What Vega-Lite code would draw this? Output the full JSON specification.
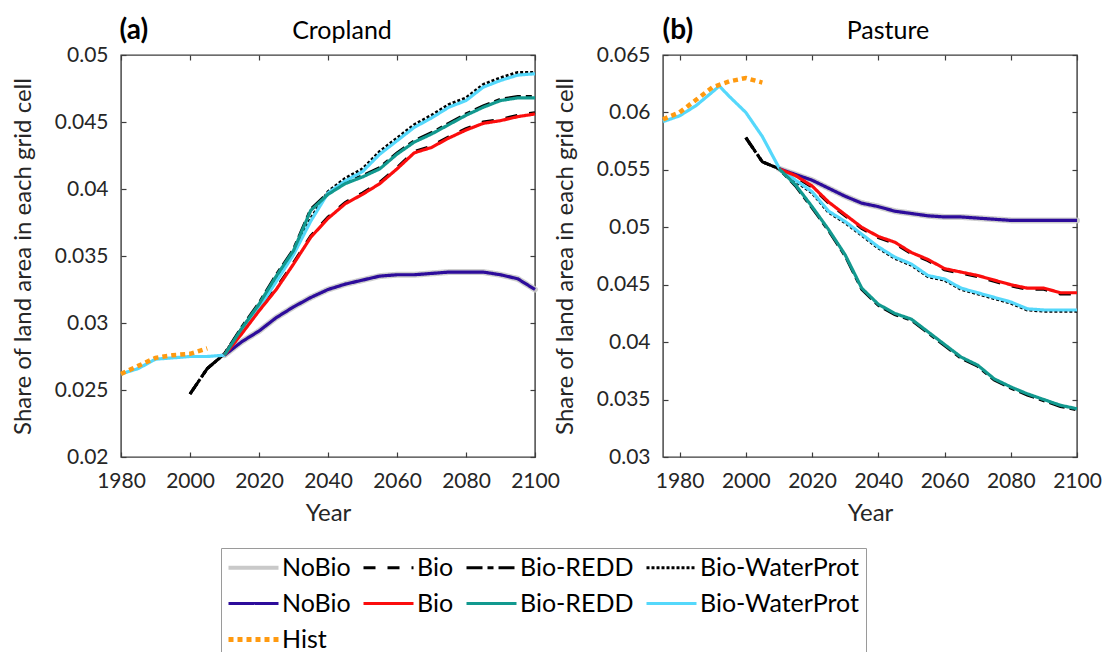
{
  "$schema": "https://vega.github.io/schema/vega-lite/v6.json",
  "background": "white",
  "padding": {"left": 10, "top": 17, "right": 10, "bottom": 0},
  "config": {
    "font": "Lato",
    "view": {"stroke": "#3c3c3c", "strokeWidth": 1.4},
    "axis": {
      "grid": false, "domain": false,
      "tickColor": "#3c3c3c", "tickSize": 5, "tickWidth": 1.2, "offset": -5,
      "labelFont": "Lato", "labelFontSize": 21, "labelColor": "#262626",
      "labelFlush": false, "labelOverlap": false, "labelBound": false,
      "titleFont": "Lato", "titleFontSize": 24, "titleFontWeight": "normal", "titleColor": "#262626"
    },
    "axisX": {"labelPadding": 13, "titlePadding": 10},
    "axisY": {"labelPadding": 13, "titlePadding": 19},
    "title": {"font": "Lato", "fontSize": 25, "fontWeight": "normal", "color": "#000000"},
    "legend": {
      "orient": "none", "legendX": 100, "legendY": 493,
      "direction": "horizontal", "columns": 4, "title": null,
      "labelFont": "Lato", "labelFontSize": 25, "labelColor": "#000000", "labelOffset": 16, "labelLimit": 300,
      "symbolType": "stroke", "symbolSize": 2500, "symbolStrokeWidth": 3, "symbolOffset": 13,
      "strokeColor": "#9a9a9a", "padding": 7, "rowPadding": 10, "columnPadding": 6
    }
  },
  "datasets": {
    "land": [
      {"p":"a","s":"Hist","t":1980,"v":0.0262},{"p":"a","s":"Hist","t":1985,"v":0.0268},{"p":"a","s":"Hist","t":1990,"v":0.0274},{"p":"a","s":"Hist","t":1995,"v":0.0276},{"p":"a","s":"Hist","t":2000,"v":0.0277},{"p":"a","s":"Hist","t":2005,"v":0.0281},

      {"p":"a","s":"c_Bio-WaterProt","t":1980,"v":0.0262},{"p":"a","s":"c_Bio-WaterProt","t":1985,"v":0.0266},{"p":"a","s":"c_Bio-WaterProt","t":1990,"v":0.0273},{"p":"a","s":"c_Bio-WaterProt","t":1995,"v":0.0274},{"p":"a","s":"c_Bio-WaterProt","t":2000,"v":0.0275},{"p":"a","s":"c_Bio-WaterProt","t":2005,"v":0.0275},
      {"p":"a","s":"c_Bio-WaterProt","t":2010,"v":0.0276},{"p":"a","s":"c_Bio-WaterProt","t":2015,"v":0.0294},{"p":"a","s":"c_Bio-WaterProt","t":2020,"v":0.0311},{"p":"a","s":"c_Bio-WaterProt","t":2025,"v":0.0331},{"p":"a","s":"c_Bio-WaterProt","t":2030,"v":0.0351},{"p":"a","s":"c_Bio-WaterProt","t":2035,"v":0.0376},{"p":"a","s":"c_Bio-WaterProt","t":2040,"v":0.0397},{"p":"a","s":"c_Bio-WaterProt","t":2045,"v":0.0406},{"p":"a","s":"c_Bio-WaterProt","t":2050,"v":0.0413},{"p":"a","s":"c_Bio-WaterProt","t":2055,"v":0.0426},{"p":"a","s":"c_Bio-WaterProt","t":2060,"v":0.0436},{"p":"a","s":"c_Bio-WaterProt","t":2065,"v":0.0446},{"p":"a","s":"c_Bio-WaterProt","t":2070,"v":0.0453},{"p":"a","s":"c_Bio-WaterProt","t":2075,"v":0.0461},{"p":"a","s":"c_Bio-WaterProt","t":2080,"v":0.0466},{"p":"a","s":"c_Bio-WaterProt","t":2085,"v":0.0476},{"p":"a","s":"c_Bio-WaterProt","t":2090,"v":0.0481},{"p":"a","s":"c_Bio-WaterProt","t":2095,"v":0.0485},{"p":"a","s":"c_Bio-WaterProt","t":2100,"v":0.0486},

      {"p":"a","s":"c_NoBio","t":2010,"v":0.0276},{"p":"a","s":"c_NoBio","t":2015,"v":0.0286},{"p":"a","s":"c_NoBio","t":2020,"v":0.0294},{"p":"a","s":"c_NoBio","t":2025,"v":0.0304},{"p":"a","s":"c_NoBio","t":2030,"v":0.0312},{"p":"a","s":"c_NoBio","t":2035,"v":0.0319},{"p":"a","s":"c_NoBio","t":2040,"v":0.0325},{"p":"a","s":"c_NoBio","t":2045,"v":0.0329},{"p":"a","s":"c_NoBio","t":2050,"v":0.0332},{"p":"a","s":"c_NoBio","t":2055,"v":0.0335},{"p":"a","s":"c_NoBio","t":2060,"v":0.0336},{"p":"a","s":"c_NoBio","t":2065,"v":0.0336},{"p":"a","s":"c_NoBio","t":2070,"v":0.0337},{"p":"a","s":"c_NoBio","t":2075,"v":0.0338},{"p":"a","s":"c_NoBio","t":2080,"v":0.0338},{"p":"a","s":"c_NoBio","t":2085,"v":0.0338},{"p":"a","s":"c_NoBio","t":2090,"v":0.0336},{"p":"a","s":"c_NoBio","t":2095,"v":0.0333},{"p":"a","s":"c_NoBio","t":2100,"v":0.0325},

      {"p":"a","s":"c_Bio","t":2010,"v":0.0276},{"p":"a","s":"c_Bio","t":2015,"v":0.0292},{"p":"a","s":"c_Bio","t":2020,"v":0.0309},{"p":"a","s":"c_Bio","t":2025,"v":0.0325},{"p":"a","s":"c_Bio","t":2030,"v":0.0344},{"p":"a","s":"c_Bio","t":2035,"v":0.0364},{"p":"a","s":"c_Bio","t":2040,"v":0.0378},{"p":"a","s":"c_Bio","t":2045,"v":0.0389},{"p":"a","s":"c_Bio","t":2050,"v":0.0396},{"p":"a","s":"c_Bio","t":2055,"v":0.0404},{"p":"a","s":"c_Bio","t":2060,"v":0.0415},{"p":"a","s":"c_Bio","t":2065,"v":0.0427},{"p":"a","s":"c_Bio","t":2070,"v":0.0431},{"p":"a","s":"c_Bio","t":2075,"v":0.0438},{"p":"a","s":"c_Bio","t":2080,"v":0.0444},{"p":"a","s":"c_Bio","t":2085,"v":0.0449},{"p":"a","s":"c_Bio","t":2090,"v":0.0451},{"p":"a","s":"c_Bio","t":2095,"v":0.0454},{"p":"a","s":"c_Bio","t":2100,"v":0.0456},

      {"p":"a","s":"c_Bio-REDD","t":2010,"v":0.0276},{"p":"a","s":"c_Bio-REDD","t":2015,"v":0.0296},{"p":"a","s":"c_Bio-REDD","t":2020,"v":0.0314},{"p":"a","s":"c_Bio-REDD","t":2025,"v":0.0335},{"p":"a","s":"c_Bio-REDD","t":2030,"v":0.0354},{"p":"a","s":"c_Bio-REDD","t":2035,"v":0.0384},{"p":"a","s":"c_Bio-REDD","t":2040,"v":0.0396},{"p":"a","s":"c_Bio-REDD","t":2045,"v":0.0404},{"p":"a","s":"c_Bio-REDD","t":2050,"v":0.0409},{"p":"a","s":"c_Bio-REDD","t":2055,"v":0.0415},{"p":"a","s":"c_Bio-REDD","t":2060,"v":0.0426},{"p":"a","s":"c_Bio-REDD","t":2065,"v":0.0435},{"p":"a","s":"c_Bio-REDD","t":2070,"v":0.0441},{"p":"a","s":"c_Bio-REDD","t":2075,"v":0.0448},{"p":"a","s":"c_Bio-REDD","t":2080,"v":0.0455},{"p":"a","s":"c_Bio-REDD","t":2085,"v":0.0461},{"p":"a","s":"c_Bio-REDD","t":2090,"v":0.0466},{"p":"a","s":"c_Bio-REDD","t":2095,"v":0.0468},{"p":"a","s":"c_Bio-REDD","t":2100,"v":0.0468},

      {"p":"a","s":"k_NoBio","t":2010,"v":0.0276},{"p":"a","s":"k_NoBio","t":2015,"v":0.0286},{"p":"a","s":"k_NoBio","t":2020,"v":0.0294},{"p":"a","s":"k_NoBio","t":2025,"v":0.0304},{"p":"a","s":"k_NoBio","t":2030,"v":0.0312},{"p":"a","s":"k_NoBio","t":2035,"v":0.0319},{"p":"a","s":"k_NoBio","t":2040,"v":0.0325},{"p":"a","s":"k_NoBio","t":2045,"v":0.0329},{"p":"a","s":"k_NoBio","t":2050,"v":0.0332},{"p":"a","s":"k_NoBio","t":2055,"v":0.0335},{"p":"a","s":"k_NoBio","t":2060,"v":0.0336},{"p":"a","s":"k_NoBio","t":2065,"v":0.0336},{"p":"a","s":"k_NoBio","t":2070,"v":0.0337},{"p":"a","s":"k_NoBio","t":2075,"v":0.0338},{"p":"a","s":"k_NoBio","t":2080,"v":0.0338},{"p":"a","s":"k_NoBio","t":2085,"v":0.0338},{"p":"a","s":"k_NoBio","t":2090,"v":0.0336},{"p":"a","s":"k_NoBio","t":2095,"v":0.0333},{"p":"a","s":"k_NoBio","t":2100,"v":0.0325},

      {"p":"a","s":"k_Bio","t":2000,"v":0.0247},{"p":"a","s":"k_Bio","t":2005,"v":0.0266},{"p":"a","s":"k_Bio","t":2010,"v":0.0277},{"p":"a","s":"k_Bio","t":2015,"v":0.0293},{"p":"a","s":"k_Bio","t":2020,"v":0.0310},{"p":"a","s":"k_Bio","t":2025,"v":0.0326},{"p":"a","s":"k_Bio","t":2030,"v":0.0345},{"p":"a","s":"k_Bio","t":2035,"v":0.0365},{"p":"a","s":"k_Bio","t":2040,"v":0.0379},{"p":"a","s":"k_Bio","t":2045,"v":0.0390},{"p":"a","s":"k_Bio","t":2050,"v":0.0397},{"p":"a","s":"k_Bio","t":2055,"v":0.0405},{"p":"a","s":"k_Bio","t":2060,"v":0.0416},{"p":"a","s":"k_Bio","t":2065,"v":0.0428},{"p":"a","s":"k_Bio","t":2070,"v":0.0432},{"p":"a","s":"k_Bio","t":2075,"v":0.0439},{"p":"a","s":"k_Bio","t":2080,"v":0.0445},{"p":"a","s":"k_Bio","t":2085,"v":0.0450},{"p":"a","s":"k_Bio","t":2090,"v":0.0452},{"p":"a","s":"k_Bio","t":2095,"v":0.0455},{"p":"a","s":"k_Bio","t":2100,"v":0.0457},

      {"p":"a","s":"k_Bio-REDD","t":2000,"v":0.0247},{"p":"a","s":"k_Bio-REDD","t":2005,"v":0.0266},{"p":"a","s":"k_Bio-REDD","t":2010,"v":0.0277},{"p":"a","s":"k_Bio-REDD","t":2015,"v":0.0297},{"p":"a","s":"k_Bio-REDD","t":2020,"v":0.0315},{"p":"a","s":"k_Bio-REDD","t":2025,"v":0.0336},{"p":"a","s":"k_Bio-REDD","t":2030,"v":0.0355},{"p":"a","s":"k_Bio-REDD","t":2035,"v":0.0385},{"p":"a","s":"k_Bio-REDD","t":2040,"v":0.0397},{"p":"a","s":"k_Bio-REDD","t":2045,"v":0.0405},{"p":"a","s":"k_Bio-REDD","t":2050,"v":0.0410},{"p":"a","s":"k_Bio-REDD","t":2055,"v":0.0416},{"p":"a","s":"k_Bio-REDD","t":2060,"v":0.0427},{"p":"a","s":"k_Bio-REDD","t":2065,"v":0.0436},{"p":"a","s":"k_Bio-REDD","t":2070,"v":0.0442},{"p":"a","s":"k_Bio-REDD","t":2075,"v":0.0449},{"p":"a","s":"k_Bio-REDD","t":2080,"v":0.0456},{"p":"a","s":"k_Bio-REDD","t":2085,"v":0.0462},{"p":"a","s":"k_Bio-REDD","t":2090,"v":0.0467},{"p":"a","s":"k_Bio-REDD","t":2095,"v":0.0469},{"p":"a","s":"k_Bio-REDD","t":2100,"v":0.0469},

      {"p":"a","s":"k_Bio-WaterProt","t":2000,"v":0.0247},{"p":"a","s":"k_Bio-WaterProt","t":2005,"v":0.0266},{"p":"a","s":"k_Bio-WaterProt","t":2010,"v":0.0277},{"p":"a","s":"k_Bio-WaterProt","t":2015,"v":0.0296},{"p":"a","s":"k_Bio-WaterProt","t":2020,"v":0.0313},{"p":"a","s":"k_Bio-WaterProt","t":2025,"v":0.0333},{"p":"a","s":"k_Bio-WaterProt","t":2030,"v":0.0353},{"p":"a","s":"k_Bio-WaterProt","t":2035,"v":0.0378},{"p":"a","s":"k_Bio-WaterProt","t":2040,"v":0.0398},{"p":"a","s":"k_Bio-WaterProt","t":2045,"v":0.0408},{"p":"a","s":"k_Bio-WaterProt","t":2050,"v":0.0415},{"p":"a","s":"k_Bio-WaterProt","t":2055,"v":0.0428},{"p":"a","s":"k_Bio-WaterProt","t":2060,"v":0.0438},{"p":"a","s":"k_Bio-WaterProt","t":2065,"v":0.0448},{"p":"a","s":"k_Bio-WaterProt","t":2070,"v":0.0455},{"p":"a","s":"k_Bio-WaterProt","t":2075,"v":0.0463},{"p":"a","s":"k_Bio-WaterProt","t":2080,"v":0.0468},{"p":"a","s":"k_Bio-WaterProt","t":2085,"v":0.0478},{"p":"a","s":"k_Bio-WaterProt","t":2090,"v":0.0483},{"p":"a","s":"k_Bio-WaterProt","t":2095,"v":0.0487},{"p":"a","s":"k_Bio-WaterProt","t":2100,"v":0.0487},

      {"p":"b","s":"Hist","t":1975,"v":0.0594},{"p":"b","s":"Hist","t":1980,"v":0.0600},{"p":"b","s":"Hist","t":1985,"v":0.0611},{"p":"b","s":"Hist","t":1990,"v":0.0622},{"p":"b","s":"Hist","t":1995,"v":0.0627},{"p":"b","s":"Hist","t":2000,"v":0.0630},{"p":"b","s":"Hist","t":2005,"v":0.0626},

      {"p":"b","s":"c_Bio-WaterProt","t":1975,"v":0.0592},{"p":"b","s":"c_Bio-WaterProt","t":1980,"v":0.0597},{"p":"b","s":"c_Bio-WaterProt","t":1985,"v":0.0606},{"p":"b","s":"c_Bio-WaterProt","t":1990,"v":0.0618},{"p":"b","s":"c_Bio-WaterProt","t":1992,"v":0.0623},{"p":"b","s":"c_Bio-WaterProt","t":1995,"v":0.0614},{"p":"b","s":"c_Bio-WaterProt","t":2000,"v":0.0600},{"p":"b","s":"c_Bio-WaterProt","t":2005,"v":0.0579},
      {"p":"b","s":"c_Bio-WaterProt","t":2010,"v":0.0552},{"p":"b","s":"c_Bio-WaterProt","t":2015,"v":0.0541},{"p":"b","s":"c_Bio-WaterProt","t":2020,"v":0.0531},{"p":"b","s":"c_Bio-WaterProt","t":2025,"v":0.0514},{"p":"b","s":"c_Bio-WaterProt","t":2030,"v":0.0505},{"p":"b","s":"c_Bio-WaterProt","t":2035,"v":0.0494},{"p":"b","s":"c_Bio-WaterProt","t":2040,"v":0.0483},{"p":"b","s":"c_Bio-WaterProt","t":2045,"v":0.0474},{"p":"b","s":"c_Bio-WaterProt","t":2050,"v":0.0468},{"p":"b","s":"c_Bio-WaterProt","t":2055,"v":0.0458},{"p":"b","s":"c_Bio-WaterProt","t":2060,"v":0.0455},{"p":"b","s":"c_Bio-WaterProt","t":2065,"v":0.0447},{"p":"b","s":"c_Bio-WaterProt","t":2070,"v":0.0443},{"p":"b","s":"c_Bio-WaterProt","t":2075,"v":0.0439},{"p":"b","s":"c_Bio-WaterProt","t":2080,"v":0.0435},{"p":"b","s":"c_Bio-WaterProt","t":2085,"v":0.0429},{"p":"b","s":"c_Bio-WaterProt","t":2090,"v":0.0428},{"p":"b","s":"c_Bio-WaterProt","t":2095,"v":0.0428},{"p":"b","s":"c_Bio-WaterProt","t":2100,"v":0.0428},

      {"p":"b","s":"c_NoBio","t":2010,"v":0.0551},{"p":"b","s":"c_NoBio","t":2015,"v":0.0546},{"p":"b","s":"c_NoBio","t":2020,"v":0.0541},{"p":"b","s":"c_NoBio","t":2025,"v":0.0534},{"p":"b","s":"c_NoBio","t":2030,"v":0.0527},{"p":"b","s":"c_NoBio","t":2035,"v":0.0521},{"p":"b","s":"c_NoBio","t":2040,"v":0.0518},{"p":"b","s":"c_NoBio","t":2045,"v":0.0514},{"p":"b","s":"c_NoBio","t":2050,"v":0.0512},{"p":"b","s":"c_NoBio","t":2055,"v":0.0510},{"p":"b","s":"c_NoBio","t":2060,"v":0.0509},{"p":"b","s":"c_NoBio","t":2065,"v":0.0509},{"p":"b","s":"c_NoBio","t":2070,"v":0.0508},{"p":"b","s":"c_NoBio","t":2075,"v":0.0507},{"p":"b","s":"c_NoBio","t":2080,"v":0.0506},{"p":"b","s":"c_NoBio","t":2085,"v":0.0506},{"p":"b","s":"c_NoBio","t":2090,"v":0.0506},{"p":"b","s":"c_NoBio","t":2095,"v":0.0506},{"p":"b","s":"c_NoBio","t":2100,"v":0.0506},

      {"p":"b","s":"c_Bio","t":2010,"v":0.0551},{"p":"b","s":"c_Bio","t":2015,"v":0.0545},{"p":"b","s":"c_Bio","t":2020,"v":0.0536},{"p":"b","s":"c_Bio","t":2025,"v":0.0522},{"p":"b","s":"c_Bio","t":2030,"v":0.0511},{"p":"b","s":"c_Bio","t":2035,"v":0.0500},{"p":"b","s":"c_Bio","t":2040,"v":0.0492},{"p":"b","s":"c_Bio","t":2045,"v":0.0487},{"p":"b","s":"c_Bio","t":2050,"v":0.0478},{"p":"b","s":"c_Bio","t":2055,"v":0.0472},{"p":"b","s":"c_Bio","t":2060,"v":0.0464},{"p":"b","s":"c_Bio","t":2065,"v":0.0461},{"p":"b","s":"c_Bio","t":2070,"v":0.0458},{"p":"b","s":"c_Bio","t":2075,"v":0.0454},{"p":"b","s":"c_Bio","t":2080,"v":0.0450},{"p":"b","s":"c_Bio","t":2085,"v":0.0447},{"p":"b","s":"c_Bio","t":2090,"v":0.0447},{"p":"b","s":"c_Bio","t":2095,"v":0.0443},{"p":"b","s":"c_Bio","t":2100,"v":0.0443},

      {"p":"b","s":"c_Bio-REDD","t":2010,"v":0.0551},{"p":"b","s":"c_Bio-REDD","t":2015,"v":0.0537},{"p":"b","s":"c_Bio-REDD","t":2020,"v":0.0518},{"p":"b","s":"c_Bio-REDD","t":2025,"v":0.0498},{"p":"b","s":"c_Bio-REDD","t":2030,"v":0.0476},{"p":"b","s":"c_Bio-REDD","t":2035,"v":0.0447},{"p":"b","s":"c_Bio-REDD","t":2040,"v":0.0433},{"p":"b","s":"c_Bio-REDD","t":2045,"v":0.0425},{"p":"b","s":"c_Bio-REDD","t":2050,"v":0.0420},{"p":"b","s":"c_Bio-REDD","t":2055,"v":0.0409},{"p":"b","s":"c_Bio-REDD","t":2060,"v":0.0398},{"p":"b","s":"c_Bio-REDD","t":2065,"v":0.0387},{"p":"b","s":"c_Bio-REDD","t":2070,"v":0.0380},{"p":"b","s":"c_Bio-REDD","t":2075,"v":0.0368},{"p":"b","s":"c_Bio-REDD","t":2080,"v":0.0361},{"p":"b","s":"c_Bio-REDD","t":2085,"v":0.0355},{"p":"b","s":"c_Bio-REDD","t":2090,"v":0.0350},{"p":"b","s":"c_Bio-REDD","t":2095,"v":0.0345},{"p":"b","s":"c_Bio-REDD","t":2100,"v":0.0342},

      {"p":"b","s":"k_NoBio","t":2010,"v":0.0551},{"p":"b","s":"k_NoBio","t":2015,"v":0.0546},{"p":"b","s":"k_NoBio","t":2020,"v":0.0541},{"p":"b","s":"k_NoBio","t":2025,"v":0.0534},{"p":"b","s":"k_NoBio","t":2030,"v":0.0527},{"p":"b","s":"k_NoBio","t":2035,"v":0.0521},{"p":"b","s":"k_NoBio","t":2040,"v":0.0518},{"p":"b","s":"k_NoBio","t":2045,"v":0.0514},{"p":"b","s":"k_NoBio","t":2050,"v":0.0512},{"p":"b","s":"k_NoBio","t":2055,"v":0.0510},{"p":"b","s":"k_NoBio","t":2060,"v":0.0509},{"p":"b","s":"k_NoBio","t":2065,"v":0.0509},{"p":"b","s":"k_NoBio","t":2070,"v":0.0508},{"p":"b","s":"k_NoBio","t":2075,"v":0.0507},{"p":"b","s":"k_NoBio","t":2080,"v":0.0506},{"p":"b","s":"k_NoBio","t":2085,"v":0.0506},{"p":"b","s":"k_NoBio","t":2090,"v":0.0506},{"p":"b","s":"k_NoBio","t":2095,"v":0.0506},{"p":"b","s":"k_NoBio","t":2100,"v":0.0506},

      {"p":"b","s":"k_Bio","t":2000,"v":0.0578},{"p":"b","s":"k_Bio","t":2005,"v":0.0557},{"p":"b","s":"k_Bio","t":2010,"v":0.0551},{"p":"b","s":"k_Bio","t":2015,"v":0.0544},{"p":"b","s":"k_Bio","t":2020,"v":0.0535},{"p":"b","s":"k_Bio","t":2025,"v":0.0521},{"p":"b","s":"k_Bio","t":2030,"v":0.0510},{"p":"b","s":"k_Bio","t":2035,"v":0.0499},{"p":"b","s":"k_Bio","t":2040,"v":0.0491},{"p":"b","s":"k_Bio","t":2045,"v":0.0486},{"p":"b","s":"k_Bio","t":2050,"v":0.0477},{"p":"b","s":"k_Bio","t":2055,"v":0.0471},{"p":"b","s":"k_Bio","t":2060,"v":0.0463},{"p":"b","s":"k_Bio","t":2065,"v":0.0460},{"p":"b","s":"k_Bio","t":2070,"v":0.0457},{"p":"b","s":"k_Bio","t":2075,"v":0.0453},{"p":"b","s":"k_Bio","t":2080,"v":0.0449},{"p":"b","s":"k_Bio","t":2085,"v":0.0446},{"p":"b","s":"k_Bio","t":2090,"v":0.0446},{"p":"b","s":"k_Bio","t":2095,"v":0.0442},{"p":"b","s":"k_Bio","t":2100,"v":0.0442},

      {"p":"b","s":"k_Bio-REDD","t":2000,"v":0.0578},{"p":"b","s":"k_Bio-REDD","t":2005,"v":0.0557},{"p":"b","s":"k_Bio-REDD","t":2010,"v":0.0551},{"p":"b","s":"k_Bio-REDD","t":2015,"v":0.0536},{"p":"b","s":"k_Bio-REDD","t":2020,"v":0.0517},{"p":"b","s":"k_Bio-REDD","t":2025,"v":0.0497},{"p":"b","s":"k_Bio-REDD","t":2030,"v":0.0475},{"p":"b","s":"k_Bio-REDD","t":2035,"v":0.0446},{"p":"b","s":"k_Bio-REDD","t":2040,"v":0.0432},{"p":"b","s":"k_Bio-REDD","t":2045,"v":0.0424},{"p":"b","s":"k_Bio-REDD","t":2050,"v":0.0419},{"p":"b","s":"k_Bio-REDD","t":2055,"v":0.0408},{"p":"b","s":"k_Bio-REDD","t":2060,"v":0.0397},{"p":"b","s":"k_Bio-REDD","t":2065,"v":0.0386},{"p":"b","s":"k_Bio-REDD","t":2070,"v":0.0379},{"p":"b","s":"k_Bio-REDD","t":2075,"v":0.0367},{"p":"b","s":"k_Bio-REDD","t":2080,"v":0.0360},{"p":"b","s":"k_Bio-REDD","t":2085,"v":0.0354},{"p":"b","s":"k_Bio-REDD","t":2090,"v":0.0349},{"p":"b","s":"k_Bio-REDD","t":2095,"v":0.0344},{"p":"b","s":"k_Bio-REDD","t":2100,"v":0.0341},

      {"p":"b","s":"k_Bio-WaterProt","t":2000,"v":0.0578},{"p":"b","s":"k_Bio-WaterProt","t":2005,"v":0.0557},{"p":"b","s":"k_Bio-WaterProt","t":2010,"v":0.0551},{"p":"b","s":"k_Bio-WaterProt","t":2015,"v":0.0540},{"p":"b","s":"k_Bio-WaterProt","t":2020,"v":0.0530},{"p":"b","s":"k_Bio-WaterProt","t":2025,"v":0.0513},{"p":"b","s":"k_Bio-WaterProt","t":2030,"v":0.0504},{"p":"b","s":"k_Bio-WaterProt","t":2035,"v":0.0493},{"p":"b","s":"k_Bio-WaterProt","t":2040,"v":0.0482},{"p":"b","s":"k_Bio-WaterProt","t":2045,"v":0.0473},{"p":"b","s":"k_Bio-WaterProt","t":2050,"v":0.0467},{"p":"b","s":"k_Bio-WaterProt","t":2055,"v":0.0457},{"p":"b","s":"k_Bio-WaterProt","t":2060,"v":0.0454},{"p":"b","s":"k_Bio-WaterProt","t":2065,"v":0.0446},{"p":"b","s":"k_Bio-WaterProt","t":2070,"v":0.0442},{"p":"b","s":"k_Bio-WaterProt","t":2075,"v":0.0438},{"p":"b","s":"k_Bio-WaterProt","t":2080,"v":0.0434},{"p":"b","s":"k_Bio-WaterProt","t":2085,"v":0.0428},{"p":"b","s":"k_Bio-WaterProt","t":2090,"v":0.0427},{"p":"b","s":"k_Bio-WaterProt","t":2095,"v":0.0427},{"p":"b","s":"k_Bio-WaterProt","t":2100,"v":0.0427}
    ]
  },
  "spacing": -9,
  "hconcat": [
    {
      "title": {"text": "(a)", "anchor": "start", "fontWeight": "bold", "fontSize": 28, "dx": 109, "dy": 31},
      "hconcat": [
        {
          "title": {"text": "Cropland", "anchor": "middle", "frame": "group", "dx": 14, "offset": 0},
          "width": 414, "height": 402,
          "data": {"name": "land"},
          "transform": [{"filter": "datum.p == 'a'"}],
          "encoding": {
            "color": {"field": "s", "type": "nominal",
                      "sort": ["k_NoBio", "k_Bio", "k_Bio-REDD", "k_Bio-WaterProt", "c_NoBio", "c_Bio", "c_Bio-REDD", "c_Bio-WaterProt", "Hist"],
                      "scale": {"domain": ["k_NoBio", "k_Bio", "k_Bio-REDD", "k_Bio-WaterProt", "c_NoBio", "c_Bio", "c_Bio-REDD", "c_Bio-WaterProt", "Hist"],
                                "range": ["#c9c9c9", "#000000", "#000000", "#000000", "#2d0c9b", "#fb0d0d", "#12998f", "#55d8fb", "#ff9a10"]},
                      "legend": {"values": ["k_NoBio", "k_Bio", "k_Bio-REDD", "k_Bio-WaterProt", "c_NoBio", "c_Bio", "c_Bio-REDD", "c_Bio-WaterProt", "Hist"],
                                 "labelExpr": "datum.label == 'Hist' ? datum.label : slice(datum.label, 2)",
                                 "encode": {"symbols": {"update": {"strokeWidth": {"signal": "datum.value == 'Hist' ? 5 : datum.value == 'k_NoBio' ? 4 : 3"}}}}}},
            "strokeDash": {"field": "s", "type": "nominal",
                           "sort": ["k_NoBio", "k_Bio", "k_Bio-REDD", "k_Bio-WaterProt", "c_NoBio", "c_Bio", "c_Bio-REDD", "c_Bio-WaterProt", "Hist"],
                           "scale": {"domain": ["k_NoBio", "k_Bio", "k_Bio-REDD", "k_Bio-WaterProt", "c_NoBio", "c_Bio", "c_Bio-REDD", "c_Bio-WaterProt", "Hist"],
                                     "range": [[1, 0], [12, 12], [16, 5, 6, 5], [3, 2], [1, 0], [1, 0], [1, 0], [1, 0], [5, 4]]},
                           "legend": {"values": ["k_NoBio", "k_Bio", "k_Bio-REDD", "k_Bio-WaterProt", "c_NoBio", "c_Bio", "c_Bio-REDD", "c_Bio-WaterProt", "Hist"],
                                      "labelExpr": "datum.label == 'Hist' ? datum.label : slice(datum.label, 2)"}}
          },
          "layer": [
            {
              "transform": [{"filter": "datum.s == 'k_NoBio'"}],
              "mark": {"type": "line", "strokeWidth": 6, "strokeCap": "round", "opacity": 0.9},
              "encoding": {
                "x": {"field": "t", "type": "quantitative", "scale": {"domain": [1980, 2100], "nice": false, "zero": false},
                      "axis": {"orient": "bottom", "values": [1980, 2000, 2020, 2040, 2060, 2080, 2100], "format": "d", "title": "Year"}},
                "y": {"field": "v", "type": "quantitative", "scale": {"domain": [0.02, 0.05], "nice": false, "zero": false},
                      "axis": {"orient": "left", "values": [0.02, 0.025, 0.03, 0.035, 0.04, 0.045, 0.05], "format": "~g", "title": "Share of land area in each grid cell"}}
              }
            },
            {
              "transform": [{"filter": "indexof(['k_Bio','k_Bio-REDD','k_Bio-WaterProt'], datum.s) >= 0"}],
              "mark": {"type": "line", "strokeWidth": 3},
              "encoding": {
                "x": {"field": "t", "type": "quantitative", "scale": {"domain": [1980, 2100], "nice": false, "zero": false}, "axis": null},
                "y": {"field": "v", "type": "quantitative", "scale": {"domain": [0.02, 0.05], "nice": false, "zero": false}, "axis": null}
              }
            },
            {
              "transform": [{"filter": "slice(datum.s, 0, 2) == 'c_'"}],
              "mark": {"type": "line", "strokeWidth": 3.2},
              "encoding": {
                "x": {"field": "t", "type": "quantitative", "scale": {"domain": [1980, 2100], "nice": false, "zero": false},
                      "axis": {"orient": "top", "values": [1980, 2000, 2020, 2040, 2060, 2080, 2100], "labels": false, "title": null}},
                "y": {"field": "v", "type": "quantitative", "scale": {"domain": [0.02, 0.05], "nice": false, "zero": false},
                      "axis": {"orient": "right", "values": [0.02, 0.025, 0.03, 0.035, 0.04, 0.045, 0.05], "labels": false, "title": null}}
              }
            },
            {
              "transform": [{"filter": "datum.s == 'Hist'"}],
              "mark": {"type": "line", "strokeWidth": 4.5},
              "encoding": {
                "x": {"field": "t", "type": "quantitative", "scale": {"domain": [1980, 2100], "nice": false, "zero": false}, "axis": null},
                "y": {"field": "v", "type": "quantitative", "scale": {"domain": [0.02, 0.05], "nice": false, "zero": false}, "axis": null}
              }
            }
          ],
          "resolve": {"axis": {"x": "independent", "y": "independent"}}
        }
      ]
    },
    {
      "title": {"text": "(b)", "anchor": "start", "fontWeight": "bold", "fontSize": 28, "dx": 110, "dy": 31},
      "hconcat": [
        {
          "title": {"text": "Pasture", "anchor": "middle", "frame": "group", "dx": 18, "offset": 0},
          "width": 414, "height": 402,
          "data": {"name": "land"},
          "transform": [{"filter": "datum.p == 'b'"}],
          "encoding": {
            "color": {"field": "s", "type": "nominal",
                      "sort": ["k_NoBio", "k_Bio", "k_Bio-REDD", "k_Bio-WaterProt", "c_NoBio", "c_Bio", "c_Bio-REDD", "c_Bio-WaterProt", "Hist"],
                      "scale": {"domain": ["k_NoBio", "k_Bio", "k_Bio-REDD", "k_Bio-WaterProt", "c_NoBio", "c_Bio", "c_Bio-REDD", "c_Bio-WaterProt", "Hist"],
                                "range": ["#c9c9c9", "#000000", "#000000", "#000000", "#2d0c9b", "#fb0d0d", "#12998f", "#55d8fb", "#ff9a10"]},
                      "legend": {"values": ["k_NoBio", "k_Bio", "k_Bio-REDD", "k_Bio-WaterProt", "c_NoBio", "c_Bio", "c_Bio-REDD", "c_Bio-WaterProt", "Hist"],
                                 "labelExpr": "datum.label == 'Hist' ? datum.label : slice(datum.label, 2)",
                                 "encode": {"symbols": {"update": {"strokeWidth": {"signal": "datum.value == 'Hist' ? 5 : datum.value == 'k_NoBio' ? 4 : 3"}}}}}},
            "strokeDash": {"field": "s", "type": "nominal",
                           "sort": ["k_NoBio", "k_Bio", "k_Bio-REDD", "k_Bio-WaterProt", "c_NoBio", "c_Bio", "c_Bio-REDD", "c_Bio-WaterProt", "Hist"],
                           "scale": {"domain": ["k_NoBio", "k_Bio", "k_Bio-REDD", "k_Bio-WaterProt", "c_NoBio", "c_Bio", "c_Bio-REDD", "c_Bio-WaterProt", "Hist"],
                                     "range": [[1, 0], [12, 12], [16, 5, 6, 5], [3, 2], [1, 0], [1, 0], [1, 0], [1, 0], [5, 4]]},
                           "legend": {"values": ["k_NoBio", "k_Bio", "k_Bio-REDD", "k_Bio-WaterProt", "c_NoBio", "c_Bio", "c_Bio-REDD", "c_Bio-WaterProt", "Hist"],
                                      "labelExpr": "datum.label == 'Hist' ? datum.label : slice(datum.label, 2)"}}
          },
          "layer": [
            {
              "transform": [{"filter": "datum.s == 'k_NoBio'"}],
              "mark": {"type": "line", "strokeWidth": 6, "strokeCap": "round", "opacity": 0.9},
              "encoding": {
                "x": {"field": "t", "type": "quantitative", "scale": {"domain": [1975, 2100], "nice": false, "zero": false},
                      "axis": {"orient": "bottom", "values": [1980, 2000, 2020, 2040, 2060, 2080, 2100], "format": "d", "title": "Year"}},
                "y": {"field": "v", "type": "quantitative", "scale": {"domain": [0.03, 0.065], "nice": false, "zero": false},
                      "axis": {"orient": "left", "values": [0.03, 0.035, 0.04, 0.045, 0.05, 0.055, 0.06, 0.065], "format": "~g", "title": "Share of land area in each grid cell"}}
              }
            },
            {
              "transform": [{"filter": "indexof(['k_Bio','k_Bio-REDD','k_Bio-WaterProt'], datum.s) >= 0"}],
              "mark": {"type": "line", "strokeWidth": 3},
              "encoding": {
                "x": {"field": "t", "type": "quantitative", "scale": {"domain": [1975, 2100], "nice": false, "zero": false}, "axis": null},
                "y": {"field": "v", "type": "quantitative", "scale": {"domain": [0.03, 0.065], "nice": false, "zero": false}, "axis": null}
              }
            },
            {
              "transform": [{"filter": "slice(datum.s, 0, 2) == 'c_'"}],
              "mark": {"type": "line", "strokeWidth": 3.2},
              "encoding": {
                "x": {"field": "t", "type": "quantitative", "scale": {"domain": [1975, 2100], "nice": false, "zero": false},
                      "axis": {"orient": "top", "values": [1980, 2000, 2020, 2040, 2060, 2080, 2100], "labels": false, "title": null}},
                "y": {"field": "v", "type": "quantitative", "scale": {"domain": [0.03, 0.065], "nice": false, "zero": false},
                      "axis": {"orient": "right", "values": [0.03, 0.035, 0.04, 0.045, 0.05, 0.055, 0.06, 0.065], "labels": false, "title": null}}
              }
            },
            {
              "transform": [{"filter": "datum.s == 'Hist'"}],
              "mark": {"type": "line", "strokeWidth": 4.5},
              "encoding": {
                "x": {"field": "t", "type": "quantitative", "scale": {"domain": [1975, 2100], "nice": false, "zero": false}, "axis": null},
                "y": {"field": "v", "type": "quantitative", "scale": {"domain": [0.03, 0.065], "nice": false, "zero": false}, "axis": null}
              }
            }
          ],
          "resolve": {"axis": {"x": "independent", "y": "independent"}}
        }
      ]
    }
  ]
}
